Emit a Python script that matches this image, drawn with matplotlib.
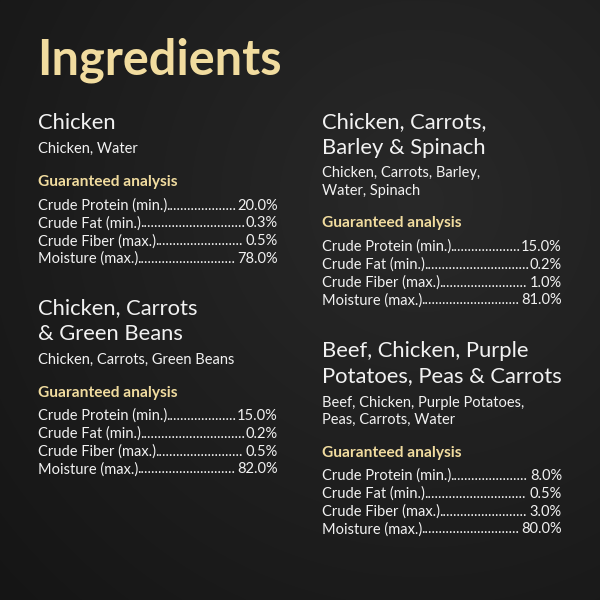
import numpy as np
import matplotlib
matplotlib.use('Agg')
import matplotlib.pyplot as plt

plt.rcParams['font.family'] = ['Lato', 'DejaVu Sans']

GOLD = '#f1dc9f'
WHITE = '#f2f2f2'

title = 'Ingredients'
sections = [
    {'x': 38, 'head': ['Chicken'], 'sub': ['Chicken, Water'], 'y': 123,
     'rows': [('Crude Protein (min.)', '20.0%'), ('Crude Fat (min.)', '0.3%'),
              ('Crude Fiber (max.)', '0.5%'), ('Moisture (max.)', '78.0%')]},
    {'x': 38, 'head': ['Chicken, Carrots', '& Green Beans'],
     'sub': ['Chicken, Carrots, Green Beans'], 'y': 308,
     'rows': [('Crude Protein (min.)', '15.0%'), ('Crude Fat (min.)', '0.2%'),
              ('Crude Fiber (max.)', '0.5%'), ('Moisture (max.)', '82.0%')]},
    {'x': 322, 'head': ['Chicken, Carrots,', 'Barley & Spinach'],
     'sub': ['Chicken, Carrots, Barley,', 'Water, Spinach'], 'y': 122,
     'rows': [('Crude Protein (min.)', '15.0%'), ('Crude Fat (min.)', '0.2%'),
              ('Crude Fiber (max.)', '1.0%'), ('Moisture (max.)', '81.0%')]},
    {'x': 322, 'head': ['Beef, Chicken, Purple', 'Potatoes, Peas & Carrots'],
     'sub': ['Beef, Chicken, Purple Potatoes,', 'Peas, Carrots, Water'], 'y': 351,
     'rows': [('Crude Protein (min.)', '8.0%'), ('Crude Fat (min.)', '0.5%'),
              ('Crude Fiber (max.)', '3.0%'), ('Moisture (max.)', '80.0%')]},
]
COL_W = 240
FS = 10.5

fig = plt.figure(figsize=(6, 6), dpi=100)
ax = fig.add_axes([0, 0, 1, 1])
ax.set_xlim(0, 600)
ax.set_ylim(600, 0)
ax.axis('off')

# dark background with a soft lighter area
yy, xx = np.mgrid[0:600, 0:600]
d = np.sqrt((xx - 420) ** 2 + (yy - 200) ** 2) / 600
g = 0.16 - 0.08 * np.clip(d, 0, 1)
ax.imshow(np.dstack([g, g, g]), extent=[0, 600, 600, 0], zorder=0)

ax.text(37, 60, title, color=GOLD, fontsize=35, fontweight='bold', va='center')

fig.canvas.draw()
rend = fig.canvas.get_renderer()
inv = ax.transData.inverted()


def width(t):
    bb = t.get_window_extent(rend)
    (x0, _), (x1, _) = inv.transform([(bb.x0, bb.y0), (bb.x1, bb.y0)])
    return x1 - x0


for s in sections:
    x, y = s['x'], s['y']
    for h in s['head']:
        ax.text(x, y, h, color=WHITE, fontsize=15.8, va='center')
        y += 25.5
    y += 0.5
    for sub in s['sub']:
        ax.text(x, y, sub, color=WHITE, fontsize=FS, va='center')
        y += 17
    y += 16
    ax.text(x, y, 'Guaranteed analysis', color=GOLD, fontsize=11.2,
            fontweight='bold', va='center')
    y += 23.5
    for lab, val in s['rows']:
        t1 = ax.text(x, y, lab, color=WHITE, fontsize=FS, va='center')
        t2 = ax.text(x + COL_W, y, val, color=WHITE, fontsize=FS,
                     va='center', ha='right')
        dot = ax.text(0, 0, '..........', fontsize=FS)
        dw = width(dot) / 10
        dot.remove()
        gap = COL_W - width(t1) - width(t2)
        n = max(int(gap / dw), 0)
        ax.text(x + width(t1) - 1, y, '.' * n, color=WHITE, fontsize=FS, va='center')
        y += 17.8

fig.savefig('out.png', dpi=100)
